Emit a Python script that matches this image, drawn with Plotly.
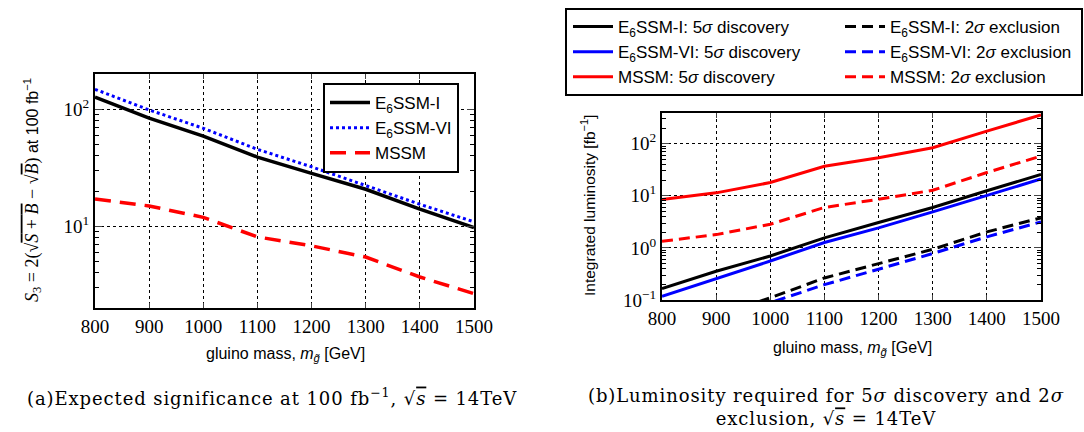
import plotly.graph_objects as go

# ---------------- data ----------------
mass = [800, 900, 1000, 1100, 1200, 1300, 1400, 1500]

# (a) expected significance at 100 fb^-1
sig_e6ssm_I = [127, 84, 59, 39, 28.3, 20.7, 14.0, 9.75]
sig_e6ssm_VI = [148, 98.6, 68.7, 45.4, 32.2, 22.4, 15.4, 10.9]
sig_mssm = [17.1, 14.9, 11.9, 8.1, 6.8, 5.45, 3.68, 2.65]

# (b) luminosity required [fb^-1]
lum_e6ssm_I_disc = [0.165, 0.356, 0.70, 1.56, 3.07, 5.97, 12.5, 25.7]
lum_e6ssm_VI_disc = [0.118, 0.257, 0.56, 1.27, 2.42, 4.92, 10.3, 21.0]
lum_mssm_disc = [8.5, 11.4, 18.0, 37.0, 54.0, 84.0, 175.0, 356.0]
lum_e6ssm_I_excl = [0.022, 0.05, 0.11, 0.265, 0.50, 0.94, 2.03, 3.78]
lum_e6ssm_VI_excl = [0.018, 0.04, 0.089, 0.197, 0.39, 0.78, 1.63, 3.16]
lum_mssm_excl = [1.34, 1.8, 2.85, 5.97, 8.6, 12.8, 28.0, 58.0]

x_ticks = [800, 900, 1000, 1100, 1200, 1300, 1400, 1500]
ya_ticks = [10, 100]
ya_text = ["10<sup>1</sup>", "10<sup>2</sup>"]
yb_ticks = [0.1, 1, 10, 100]
yb_text = ["10<sup>−1</sup>", "10<sup>0</sup>", "10<sup>1</sup>", "10<sup>2</sup>"]

W, H = 1084, 432
def px(x): return x / W
def py(y): return 1 - y / H

SANS = "Liberation Sans, Arial, sans-serif"
SERIF = "Liberation Serif, DejaVu Serif, serif"
CAPSERIF = "DejaVu Serif, Liberation Serif, serif"
BLACK, BLUE, RED = "#000000", "#0000ff", "#ff0000"

fig = go.Figure()

# ---------- panel (a) ----------
fig.add_trace(go.Scatter(x=mass, y=sig_e6ssm_I, mode="lines", name="E<sub>6</sub>SSM-I",
                         line=dict(color=BLACK, width=3.5), xaxis="x", yaxis="y",
                         legend="legend", legendgroup="a1"))
fig.add_trace(go.Scatter(x=mass, y=sig_e6ssm_VI, mode="lines", name="E<sub>6</sub>SSM-VI",
                         line=dict(color=BLUE, width=3, dash="dot"), xaxis="x", yaxis="y",
                         legend="legend", legendgroup="a2"))
fig.add_trace(go.Scatter(x=mass, y=sig_mssm, mode="lines", name="MSSM",
                         line=dict(color=RED, width=3.5, dash="16px,9px"), xaxis="x", yaxis="y",
                         legend="legend", legendgroup="a3"))

# ---------- panel (b) ----------
b_specs = [
    (lum_e6ssm_I_disc, "E<sub>6</sub>SSM-I: 5<i>σ</i> discovery", BLACK, "solid", "legend2", "b1"),
    (lum_e6ssm_VI_disc, "E<sub>6</sub>SSM-VI: 5<i>σ</i> discovery", BLUE, "solid", "legend2", "b2"),
    (lum_mssm_disc, "MSSM: 5<i>σ</i> discovery", RED, "solid", "legend2", "b3"),
    (lum_e6ssm_I_excl, "E<sub>6</sub>SSM-I: 2<i>σ</i> exclusion", BLACK, "11px,6px", "legend3", "c1"),
    (lum_e6ssm_VI_excl, "E<sub>6</sub>SSM-VI: 2<i>σ</i> exclusion", BLUE, "11px,6px", "legend3", "c2"),
    (lum_mssm_excl, "MSSM: 2<i>σ</i> exclusion", RED, "11px,6px", "legend3", "c3"),
]
for ys, nm, col, dash, lg, grp in b_specs:
    fig.add_trace(go.Scatter(x=mass, y=ys, mode="lines", name=nm,
                             line=dict(color=col, width=3, dash=dash),
                             xaxis="x2", yaxis="y2", legend=lg, legendgroup=grp))

tickfont = dict(family=SERIF, size=19, color="black")
minor_a = [v * d for d in (1, 10, 100) for v in range(2, 10)]
minor_b = [v * d for d in (0.1, 1, 10, 100) for v in range(2, 10)]

common_x = dict(range=[800, 1500], tickvals=x_ticks, ticks="inside", ticklen=5, tickwidth=1,
                showline=True, linewidth=2, linecolor="black", mirror="ticks",
                showgrid=True, gridcolor="black", griddash="dot", gridwidth=1,
                tickfont=tickfont, zeroline=False)
common_y = dict(type="log", ticks="inside", ticklen=7, tickwidth=1,
                showline=True, linewidth=2, linecolor="black", mirror="ticks",
                showgrid=True, gridcolor="black", griddash="dot", gridwidth=1,
                tickfont=tickfont, zeroline=False)

fig.update_layout(
    width=W, height=H, margin=dict(l=0, r=0, t=0, b=0, autoexpand=False),
    paper_bgcolor="white", plot_bgcolor="white", showlegend=True,
    xaxis=dict(domain=[px(95), px(474)], anchor="y", **common_x),
    yaxis=dict(domain=[py(308), py(74)], anchor="x", range=[0.301, 2.301],
               tickvals=ya_ticks, ticktext=ya_text,
               minor=dict(tickmode="array", tickvals=minor_a, ticks="inside", ticklen=4,
                          tickcolor="black", showgrid=False),
               **common_y),
    xaxis2=dict(domain=[px(662), px(1041)], anchor="y2", **common_x),
    yaxis2=dict(domain=[py(300), py(113)], anchor="x2", range=[-1, 2.59],
                tickvals=yb_ticks, ticktext=yb_text,
                minor=dict(tickmode="array", tickvals=minor_b, ticks="inside", ticklen=4,
                           tickcolor="black", showgrid=False),
                **common_y),
    legend=dict(x=px(323), y=py(83), xanchor="left", yanchor="top",
                bgcolor="white", bordercolor="black", borderwidth=2,
                font=dict(family=SANS, size=17, color="black"), tracegroupgap=0,
                itemwidth=40),
    legend2=dict(x=px(568), y=py(9), xanchor="left", yanchor="top",
                 bgcolor="rgba(0,0,0,0)", borderwidth=0,
                 font=dict(family=SANS, size=17, color="black"), tracegroupgap=0,
                 itemwidth=40),
    legend3=dict(x=px(840), y=py(9), xanchor="left", yanchor="top",
                 bgcolor="rgba(0,0,0,0)", borderwidth=0,
                 font=dict(family=SANS, size=17, color="black"), tracegroupgap=0,
                 itemwidth=40),
)

# border of the combined legend of panel (b)
fig.add_shape(type="rect", xref="paper", yref="paper",
              x0=px(566), x1=px(1082), y0=py(95), y1=py(9),
              line=dict(color="black", width=2), fillcolor="rgba(0,0,0,0)")

def note(x, y, text, font, angle=0):
    return dict(x=px(x), y=py(y), xref="paper", yref="paper", showarrow=False,
                xanchor="center", yanchor="middle", textangle=angle, text=text, font=font)

ann = []
# axis titles
axfont = dict(family=SANS, size=16, color="black")
ann.append(note(285, 354, "gluino mass, <i>m</i><sub><i>g̃</i></sub> [GeV]", axfont))
ann.append(note(852, 348, "gluino mass, <i>m</i><sub><i>g̃</i></sub> [GeV]", axfont))
ann.append(note(33, 190,
                ("<span style='font-family:Liberation Serif;font-size:18px'><i>S</i><sub>3</sub> = 2(√"
                 "<span style='text-decoration:overline'><i>S</i> + <i>B</i></span> − √"
                 "<span style='text-decoration:overline'><i>B</i></span>)</span>"
                 " at 100 fb<sup>−1</sup>"), axfont, -90))
ann.append(note(588, 206, "Integrated luminosity [fb<sup>−1</sup>]",
                dict(family=SANS, size=15.5, color="black"), -90))
# captions
capfont = dict(family=CAPSERIF, size=18, color="black")
LS = "<span style='letter-spacing:0.9px'>"
ann.append(note(272, 397,
                LS + "(a)Expected significance at 100 fb<sup>−1</sup>, √<span style='text-decoration:overline'><i>s</i></span> = 14TeV</span>",
                capfont))
ann.append(note(826, 407,
                (LS + "(b)Luminosity required for 5<i>σ</i> discovery and 2<i>σ</i></span><br>"
                 + LS + "exclusion, √<span style='text-decoration:overline'><i>s</i></span> = 14TeV</span>"),
                capfont))
fig.update_layout(annotations=ann)

fig.write_html("out.html")
